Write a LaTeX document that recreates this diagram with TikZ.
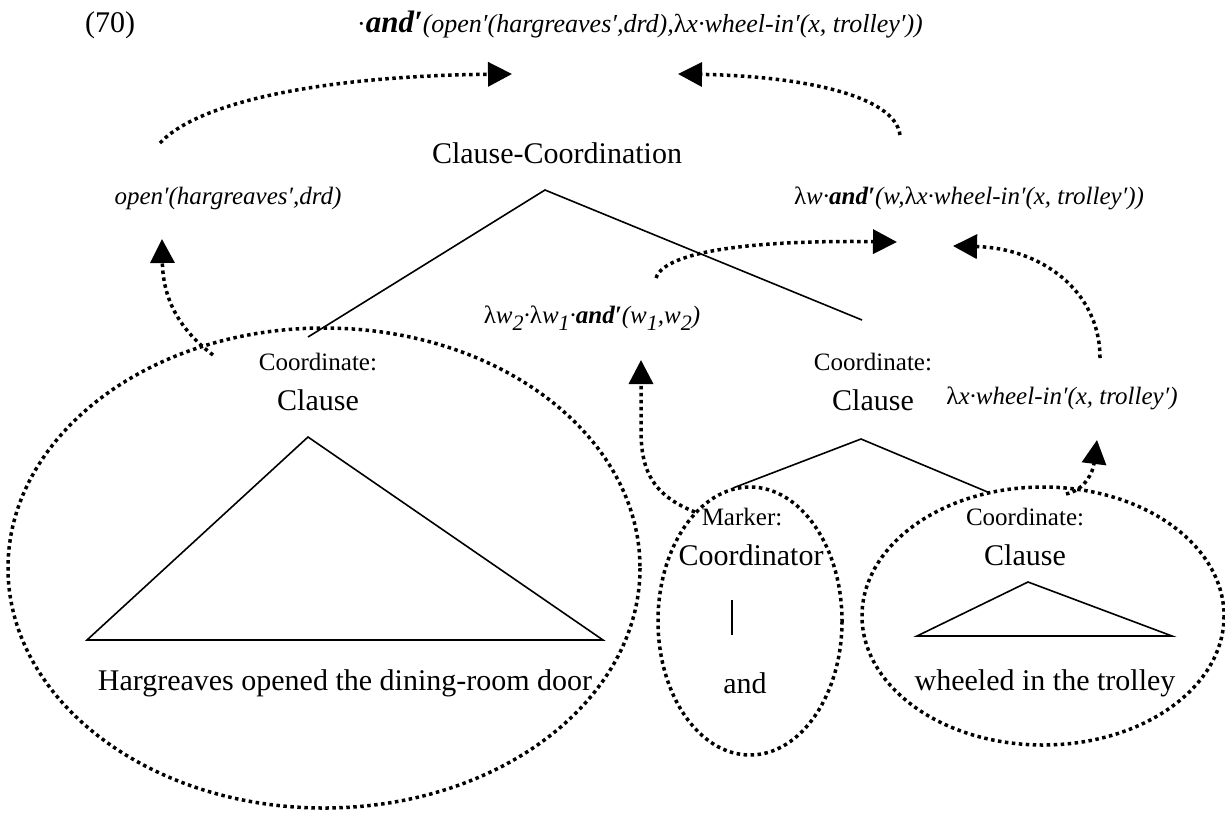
\documentclass[tikz,border=0pt]{standalone}
\usepackage{fontspec}
\setmainfont{Liberation Serif}
\usetikzlibrary{arrows.meta}
% lowered index digit for the lambda variables
\newcommand\vidx[1]{\raisebox{-0.3em}{\fontsize{22}{26}\selectfont #1}}
\begin{document}
\begin{tikzpicture}[x=1pt,y=-1pt,
  every node/.style={inner sep=0pt},
  lab/.style={font=\fontsize{30}{36}\selectfont},
  tag/.style={font=\fontsize{25}{30}\selectfont},
  sem/.style={font=\fontsize{25}{30}\selectfont\itshape},
  branch/.style={line width=1.6pt},
  ring/.style={line width=3.5pt, dash pattern=on 3.5pt off 3.5pt},
  flow/.style={line width=3.5pt, dash pattern=on 3.5pt off 3.5pt,
    -{Triangle[length=24pt,width=24pt]}}
]
\useasboundingbox (0,0) rectangle (1225,823);

% example number and final meaning
\node[lab] (num) at (110,25) {(70)};
\node[font=\fontsize{26}{31}\selectfont\itshape] (top) at (640,25) {\upshape·\textbf{\itshape\fontsize{31}{36}\selectfont and′}\itshape(open′(hargreaves′,drd),{\upshape λ}x·wheel-in′(x, trolley′))};

% root category and the two daughter meanings
\node[lab] (cc) at (557,153) {Clause-Coordination};
\node[sem] (m1) at (228,198) {open′(hargreaves′,drd)};
\node[sem] (m2) at (969,198) {{\upshape λ}w·\textbf{and′}(w,{\upshape λ}x·wheel-in′(x, trolley′))};
\node[sem] (m3) at (592,318) {{\upshape λ}w\vidx{2}·{\upshape λ}w\vidx{1}·\textbf{and′}(w\vidx{1},w\vidx{2})};

% left coordinate
\node[tag] (c1t) at (318,362) {Coordinate:};
\node[lab] (c1) at (318,400) {Clause};
\node[lab] (s1) at (345,683) {Hargreaves opened the dining-room door};

% right coordinate
\node[tag] (c2t) at (873,362) {Coordinate:};
\node[lab] (c2) at (873,400) {Clause};
\node[sem] (m4) at (1062,398) {{\upshape λ}x·wheel-in′(x, trolley′)};

% marker and second clause
\node[tag] (mkt) at (742,517) {Marker:};
\node[lab] (mk) at (751,555) {Coordinator};
\node[lab] (w1) at (745,683) {and};
\node[tag] (c3t) at (1025,517) {Coordinate:};
\node[lab] (c3) at (1025,555) {Clause};
\node[lab] (s3) at (1045,683) {wheeled in the trolley};

% tree branches
\coordinate (root) at (545,190);
\coordinate (rootL) at (308,337);
\coordinate (rootR) at (862,320);
\draw[branch] (rootL) -- (root) -- (rootR);
\coordinate (subA) at (861,439);
\coordinate (subL) at (733,488);
\coordinate (subR) at (990,493);
\draw[branch] (subL) -- (subA) -- (subR);
\coordinate (triA) at (308,437);
\coordinate (triL) at (87,640);
\coordinate (triR) at (603,640);
\draw[branch] (triL) -- (triA) -- (triR) -- cycle;
\coordinate (barT) at (732,600);
\coordinate (barB) at (732,635);
\draw[branch] (barT) -- (barB);
\coordinate (tri2A) at (1028,582);
\coordinate (tri2L) at (917,636);
\coordinate (tri2R) at (1172,636);
\draw[branch] (tri2L) -- (tri2A) -- (tri2R) -- cycle;

% constituents circled
\draw[ring] (324,568) ellipse [x radius=316, y radius=240];
\draw[ring] (750,621) ellipse [x radius=92, y radius=134];
\draw[ring] (1043,616) ellipse [x radius=181, y radius=129];

% composition arrows
\coordinate (f1s) at (160,143);  \coordinate (f1e) at (512,74);
\coordinate (f2s) at (900,135);  \coordinate (f2e) at (678,74);
\coordinate (f3s) at (213,355);  \coordinate (f3e) at (162,239);
\coordinate (f4s) at (695,512);  \coordinate (f4e) at (641,360);
\coordinate (f5s) at (1100,358); \coordinate (f5e) at (953,246);
\coordinate (f6s) at (656,278);  \coordinate (f6e) at (897,242);
\coordinate (f7s) at (1066,494); \coordinate (f7e) at (1097,440);
\draw[flow] (f1s) .. controls (200,100) and (330,76) .. (f1e);
\draw[flow] (f2s) .. controls (895,95) and (800,76) .. (f2e);
\draw[flow] (f3s) .. controls (180,330) and (163,300) .. (f3e);
\draw[flow] (f4s) .. controls (652,495) and (641,470) .. (641,430) -- (f4e);
\draw[flow] (f5s) .. controls (1100,290) and (1040,248) .. (f5e);
\draw[flow] (f6s) .. controls (665,250) and (760,240) .. (f6e);
\draw[flow] (f7s) .. controls (1085,490) and (1093,472) .. (f7e);
\end{tikzpicture}
\end{document}
